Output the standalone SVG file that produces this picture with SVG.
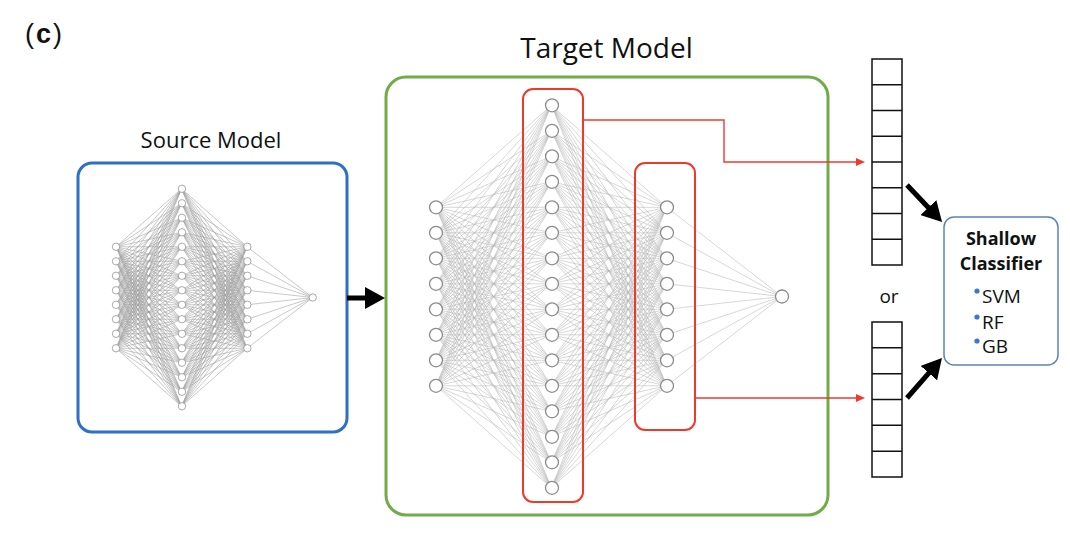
<svg xmlns="http://www.w3.org/2000/svg" xmlns:xlink="http://www.w3.org/1999/xlink" width="1070" height="534" viewBox="0 0 1070 534">
<style>
.lbl{font-family:"Open Sans",Lato,"Liberation Sans",sans-serif;fill:#111}
.edge{fill:none;stroke:var(--ec,#b5b5b5);stroke-width:0.55}
.nd{fill:#fff;stroke:#8c8c8c;stroke-width:1.3}
.red{fill:none;stroke:#ee3a2c;stroke-width:2}
.redln{fill:none;stroke:#ee3a2c;stroke-width:1.4}
.blk{fill:none;stroke:#000;stroke-width:5}
.cell{fill:#fff;stroke:#111;stroke-width:1.5}
.bul{fill:#3b78c8}
</style>
<defs>
<marker id="hb" markerUnits="userSpaceOnUse" markerWidth="20" markerHeight="22" refX="2" refY="11" orient="auto"><path d="M0 0L20 11L0 22z" fill="#000"/></marker>
<marker id="hr" markerUnits="userSpaceOnUse" markerWidth="9" markerHeight="8" refX="1" refY="4" orient="auto"><path d="M0 0L9 4L0 8z" fill="#ee3a2c"/></marker>
<g id="net">
<path class="edge" vector-effect="non-scaling-stroke" transform="translate(436 105.3) scale(115.33 25.5)" d="M0 4L1 0L2 4M0 5L1 0L2 5M0 6L1 0L2 6M0 7L1 0L2 7M0 8L1 0L2 8M0 9L1 0L2 9M0 10L1 0L2 10M0 11L1 0L2 11M0 4L1 1L2 4M0 5L1 1L2 5M0 6L1 1L2 6M0 7L1 1L2 7M0 8L1 1L2 8M0 9L1 1L2 9M0 10L1 1L2 10M0 11L1 1L2 11M0 4L1 2L2 4M0 5L1 2L2 5M0 6L1 2L2 6M0 7L1 2L2 7M0 8L1 2L2 8M0 9L1 2L2 9M0 10L1 2L2 10M0 11L1 2L2 11M0 4L1 3L2 4M0 5L1 3L2 5M0 6L1 3L2 6M0 7L1 3L2 7M0 8L1 3L2 8M0 9L1 3L2 9M0 10L1 3L2 10M0 11L1 3L2 11M0 4L1 4L2 4M0 5L1 4L2 5M0 6L1 4L2 6M0 7L1 4L2 7M0 8L1 4L2 8M0 9L1 4L2 9M0 10L1 4L2 10M0 11L1 4L2 11M0 4L1 5L2 4M0 5L1 5L2 5M0 6L1 5L2 6M0 7L1 5L2 7M0 8L1 5L2 8M0 9L1 5L2 9M0 10L1 5L2 10M0 11L1 5L2 11M0 4L1 6L2 4M0 5L1 6L2 5M0 6L1 6L2 6M0 7L1 6L2 7M0 8L1 6L2 8M0 9L1 6L2 9M0 10L1 6L2 10M0 11L1 6L2 11M0 4L1 7L2 4M0 5L1 7L2 5M0 6L1 7L2 6M0 7L1 7L2 7M0 8L1 7L2 8M0 9L1 7L2 9M0 10L1 7L2 10M0 11L1 7L2 11M0 4L1 8L2 4M0 5L1 8L2 5M0 6L1 8L2 6M0 7L1 8L2 7M0 8L1 8L2 8M0 9L1 8L2 9M0 10L1 8L2 10M0 11L1 8L2 11M0 4L1 9L2 4M0 5L1 9L2 5M0 6L1 9L2 6M0 7L1 9L2 7M0 8L1 9L2 8M0 9L1 9L2 9M0 10L1 9L2 10M0 11L1 9L2 11M0 4L1 10L2 4M0 5L1 10L2 5M0 6L1 10L2 6M0 7L1 10L2 7M0 8L1 10L2 8M0 9L1 10L2 9M0 10L1 10L2 10M0 11L1 10L2 11M0 4L1 11L2 4M0 5L1 11L2 5M0 6L1 11L2 6M0 7L1 11L2 7M0 8L1 11L2 8M0 9L1 11L2 9M0 10L1 11L2 10M0 11L1 11L2 11M0 4L1 12L2 4M0 5L1 12L2 5M0 6L1 12L2 6M0 7L1 12L2 7M0 8L1 12L2 8M0 9L1 12L2 9M0 10L1 12L2 10M0 11L1 12L2 11M0 4L1 13L2 4M0 5L1 13L2 5M0 6L1 13L2 6M0 7L1 13L2 7M0 8L1 13L2 8M0 9L1 13L2 9M0 10L1 13L2 10M0 11L1 13L2 11M0 4L1 14L2 4M0 5L1 14L2 5M0 6L1 14L2 6M0 7L1 14L2 7M0 8L1 14L2 8M0 9L1 14L2 9M0 10L1 14L2 10M0 11L1 14L2 11M0 4L1 15L2 4M0 5L1 15L2 5M0 6L1 15L2 6M0 7L1 15L2 7M0 8L1 15L2 8M0 9L1 15L2 9M0 10L1 15L2 10M0 11L1 15L2 11M2 4L3 7.5M2 5L3 7.5M2 6L3 7.5M2 7L3 7.5M2 8L3 7.5M2 9L3 7.5M2 10L3 7.5M2 11L3 7.5"/>
<circle class="nd" cx="436" cy="207.3" r="6.5"/><circle class="nd" cx="436" cy="232.8" r="6.5"/><circle class="nd" cx="436" cy="258.3" r="6.5"/><circle class="nd" cx="436" cy="283.8" r="6.5"/><circle class="nd" cx="436" cy="309.3" r="6.5"/><circle class="nd" cx="436" cy="334.8" r="6.5"/><circle class="nd" cx="436" cy="360.3" r="6.5"/><circle class="nd" cx="436" cy="385.8" r="6.5"/>
<circle class="nd" cx="552" cy="105.3" r="6.5"/><circle class="nd" cx="552" cy="130.8" r="6.5"/><circle class="nd" cx="552" cy="156.3" r="6.5"/><circle class="nd" cx="552" cy="181.8" r="6.5"/><circle class="nd" cx="552" cy="207.3" r="6.5"/><circle class="nd" cx="552" cy="232.8" r="6.5"/><circle class="nd" cx="552" cy="258.3" r="6.5"/><circle class="nd" cx="552" cy="283.8" r="6.5"/><circle class="nd" cx="552" cy="309.3" r="6.5"/><circle class="nd" cx="552" cy="334.8" r="6.5"/><circle class="nd" cx="552" cy="360.3" r="6.5"/><circle class="nd" cx="552" cy="385.8" r="6.5"/><circle class="nd" cx="552" cy="411.3" r="6.5"/><circle class="nd" cx="552" cy="436.8" r="6.5"/><circle class="nd" cx="552" cy="462.3" r="6.5"/><circle class="nd" cx="552" cy="487.8" r="6.5"/>
<circle class="nd" cx="667" cy="207.3" r="6.5"/><circle class="nd" cx="667" cy="232.8" r="6.5"/><circle class="nd" cx="667" cy="258.3" r="6.5"/><circle class="nd" cx="667" cy="283.8" r="6.5"/><circle class="nd" cx="667" cy="309.3" r="6.5"/><circle class="nd" cx="667" cy="334.8" r="6.5"/><circle class="nd" cx="667" cy="360.3" r="6.5"/><circle class="nd" cx="667" cy="385.8" r="6.5"/>
<circle class="nd" cx="782" cy="296.5" r="6.5"/>
</g>
</defs>
<rect width="1070" height="534" fill="#fff"/>
<text x="25" y="43" font-family="'Liberation Sans',Arial,sans-serif" font-size="27" letter-spacing="2" fill="#111">(<tspan font-weight="bold">c</tspan>)</text>
<g id="source-model">
<text class="lbl" x="211" y="148" font-size="22" text-anchor="middle">Source Model</text>
<rect x="78" y="163" width="269" height="269" rx="14" fill="#fff" stroke="#2f6fc4" stroke-width="3"/>
<use xlink:href="#net" style="--ec:#9c9c9c" transform="matrix(0.5686 0 0 0.5686 -131.9 128.9)"/>
</g>
<g id="target-model">
<text class="lbl" x="606.5" y="58" font-size="28" text-anchor="middle">Target Model</text>
<rect x="386" y="77" width="442" height="438" rx="20" fill="#fff" stroke="#72ab4a" stroke-width="3"/>
<use xlink:href="#net"/>
<rect class="red" x="523" y="89" width="60" height="413" rx="10"/>
<rect class="red" x="635" y="163" width="60" height="267" rx="10"/>
</g>
<g id="feature-vector-1">
<rect class="cell" x="872" y="59" width="30" height="206"/>
<path class="cell" d="M872 84.75h30M872 110.5h30M872 136.25h30M872 162h30M872 187.75h30M872 213.5h30M872 239.25h30"/>
</g>
<g id="or-label"><text class="lbl" x="889" y="303" font-size="19" text-anchor="middle">or</text></g>
<g id="feature-vector-2">
<rect class="cell" x="872" y="322" width="30" height="155"/>
<path class="cell" d="M872 347.8h30M872 373.7h30M872 399.5h30M872 425.3h30M872 451.2h30"/>
</g>
<g id="shallow-classifier">
<rect x="944" y="217" width="114" height="148" rx="10" fill="#fff" stroke="#5a84b5" stroke-width="1.5"/>
<text class="lbl" x="1001" y="245" font-size="18" font-weight="bold" text-anchor="middle">Shallow</text>
<text class="lbl" x="1001" y="270" font-size="18" font-weight="bold" text-anchor="middle">Classifier</text>
<circle class="bul" cx="977" cy="291" r="2.6"/>
<circle class="bul" cx="977" cy="317" r="2.6"/>
<circle class="bul" cx="977" cy="341" r="2.6"/>
<text class="lbl" x="982" y="303" font-size="19">SVM</text>
<text class="lbl" x="982" y="329" font-size="19">RF</text>
<text class="lbl" x="982" y="353" font-size="19">GB</text>
</g>
<g id="connectors">
<path class="blk" d="M347 298H367" marker-end="url(#hb)"/>
<path class="redln" d="M583 120H724V162H857" marker-end="url(#hr)"/>
<path class="redln" d="M695 398H857" marker-end="url(#hr)"/>
<path class="blk" d="M907 185L929.7 209" marker-end="url(#hb)"/>
<path class="blk" d="M907 398L930.1 371.6" marker-end="url(#hb)"/>
</g>
</svg>
